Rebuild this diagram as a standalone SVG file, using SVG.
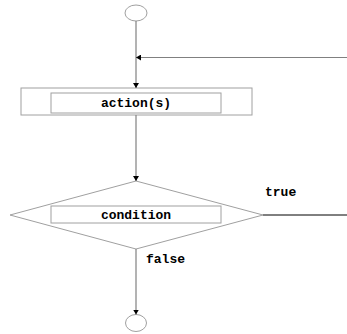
<svg xmlns="http://www.w3.org/2000/svg" width="347" height="334" viewBox="0 0 347 334">
<style>
.shape{fill:#fff;stroke:#a0a0a0;stroke-width:1}
.conn{fill:none;stroke:#808080;stroke-width:1.2}
.lbl{font-family:"Liberation Mono","Courier New",monospace;font-weight:bold;font-size:13px;fill:#000}
</style>
<defs>
<marker id="arr" markerWidth="6" markerHeight="6" refX="5" refY="3" orient="auto" markerUnits="userSpaceOnUse">
<path d="M0,0 L5,3 L0,6 z" fill="#000"/>
</marker>
</defs>
<g id="start"><ellipse class="shape" cx="136" cy="13" rx="11" ry="8"/></g>
<g id="action">
<rect class="shape" x="21" y="88" width="231" height="27"/>
<rect class="shape" x="51" y="93" width="170" height="20"/>
<text class="lbl" x="136" y="107" text-anchor="middle">action(s)</text>
</g>
<g id="condition">
<polygon class="shape" points="136,181 263,215 136,249 10,215"/>
<rect class="shape" x="51" y="206" width="170" height="17"/>
<text class="lbl" x="136" y="219" text-anchor="middle">condition</text>
</g>
<g id="end"><ellipse class="shape" cx="136" cy="323" rx="10.5" ry="8.5"/></g>
<g id="connectors">
<line class="conn" x1="136" y1="21" x2="136" y2="88" marker-end="url(#arr)"/>
<line class="conn" x1="347" y1="57.5" x2="136" y2="57.5" marker-end="url(#arr)"/>
<line class="conn" x1="136" y1="115" x2="136" y2="181" marker-end="url(#arr)"/>
<line class="conn" x1="136" y1="249" x2="136" y2="314.5" marker-end="url(#arr)"/>
<line x1="263" y1="215" x2="347" y2="215" stroke="#000" stroke-width="1"/>
<text class="lbl" x="265" y="196">true</text>
<text class="lbl" x="146" y="263">false</text>
</g>
</svg>
